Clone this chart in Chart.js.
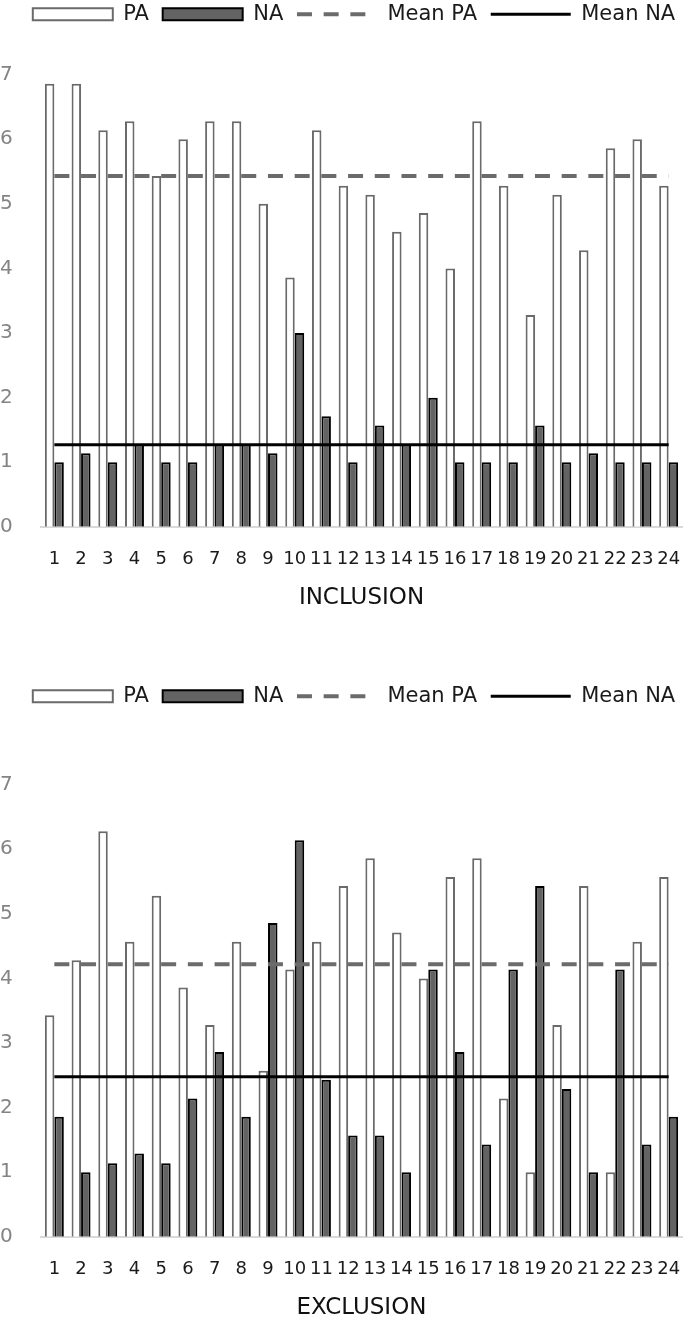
<!DOCTYPE html>
<html>
<head>
<meta charset="utf-8">
<script src="https://cdn.jsdelivr.net/npm/chart.js@4.4.1/dist/chart.umd.min.js"></script>
<style>
  html, body { margin: 0; padding: 0; background: #fff; }
  body { width: 685px; height: 1324px; position: relative; overflow: hidden; }
  .box { position: absolute; left: 0; width: 685px; }
  #topBox { top: -10px; height: 626px; }
  #botBox { top: 672px; height: 654px; }
</style>
</head>
<body>
<div class="box" id="topBox"><canvas id="inclusionChart"></canvas></div>
<div class="box" id="botBox"><canvas id="exclusionChart"></canvas></div>
<script>
// participants 1..24
const participants = ['1','2','3','4','5','6','7','8','9','10','11','12',
  '13','14','15','16','17','18','19','20','21','22','23','24'];

// inclusion condition
const inclusionPA = [6.86, 6.86, 6.14, 6.28, 5.43, 6.00, 6.28, 6.28, 5.00, 3.86, 6.14, 5.28,
  5.14, 4.57, 4.86, 4.00, 6.28, 5.28, 3.28, 5.14, 4.28, 5.86, 6.00, 5.28];
const inclusionNA = [1.00, 1.14, 1.00, 1.28, 1.00, 1.00, 1.28, 1.28, 1.14, 3.00, 1.71, 1.00,
  1.57, 1.28, 2.00, 1.00, 1.00, 1.00, 1.57, 1.00, 1.14, 1.00, 1.00, 1.00];
const inclusionMeanPA = 5.43;
const inclusionMeanNA = 1.27;

// exclusion condition
const exclusionPA = [3.43, 4.28, 6.28, 4.57, 5.28, 3.86, 3.28, 4.57, 2.57, 4.14, 4.57, 5.43,
  5.86, 4.71, 4.00, 5.57, 5.86, 2.14, 1.00, 3.28, 5.43, 1.00, 4.57, 5.57];
const exclusionNA = [1.86, 1.00, 1.14, 1.29, 1.14, 2.14, 2.86, 1.86, 4.86, 6.14, 2.43, 1.57,
  1.57, 1.00, 4.14, 2.86, 1.43, 4.14, 5.43, 2.29, 1.00, 4.14, 1.43, 1.86];
const exclusionMeanPA = 4.22;
const exclusionMeanNA = 2.48;

const yTicks = [0, 1, 2, 3, 4, 5, 6, 7];

Chart.defaults.font.family = "'DejaVu Sans', sans-serif";
Chart.defaults.animation = false;

// legend items: take dash + width from the dataset itself
function legendLabels(chart) {
  const items = Chart.defaults.plugins.legend.labels.generateLabels(chart);
  items.forEach(item => {
    const ds = chart.data.datasets[item.datasetIndex];
    item.lineDash = ds.borderDash || [];
    item.lineWidth = ds.borderWidth;
  });
  return items;
}

function makeChart(canvasId, title, pa, na, meanPA, meanNA, legendGap) {
  const ctx = document.getElementById(canvasId).getContext('2d');

  // push the plot down below the legend, and nudge the legend row right
  const legendGapPlugin = {
    id: 'legendGap',
    beforeInit(chart) {
      const origFit = chart.legend.fit;
      chart.legend.fit = function () {
        origFit.bind(chart.legend)();
        this.height += legendGap;
      };
    },
    afterLayout(chart) {
      chart.legend.left += 13;
      chart.legend.right += 13;
    }
  };

  return new Chart(ctx, {
    type: 'bar',
    data: {
      labels: participants,
      datasets: [{
        label: 'PA',
        data: pa,
        backgroundColor: '#ffffff',
        borderColor: '#6a6a6a',
        borderWidth: 2,
        pointStyle: 'rect',
        order: 2
      }, {
        label: 'NA',
        data: na,
        backgroundColor: '#636363',
        borderColor: '#000000',
        borderWidth: 2,
        pointStyle: 'rect',
        order: 2
      }, {
        type: 'line',
        label: 'Mean PA',
        data: participants.map(() => meanPA),
        borderColor: '#6b6b6b',
        borderWidth: 4,
        borderDash: [15, 11.7],
        pointRadius: 0,
        pointStyle: 'line',
        fill: false,
        order: 1
      }, {
        type: 'line',
        label: 'Mean NA',
        data: participants.map(() => meanNA),
        borderColor: '#000000',
        borderWidth: 3,
        pointRadius: 0,
        pointStyle: 'line',
        fill: false,
        order: 1
      }]
    },
    options: {
      responsive: true,
      maintainAspectRatio: false,
      layout: { padding: { left: 0, right: 3, top: 0, bottom: 0 } },
      datasets: {
        bar: { categoryPercentage: 0.71, barPercentage: 1.0 }
      },
      scales: {
        x: {
          grid: {
            display: true,
            drawOnChartArea: false,
            drawTicks: true,
            tickLength: 20,
            color: 'rgba(0,0,0,0)'
          },
          border: { display: true, color: '#d9d9d9', width: 2 },
          ticks: {
            autoSkip: false,
            maxRotation: 0,
            padding: 2,
            color: '#1a1a1a',
            font: { size: 18 }
          },
          title: {
            display: true,
            text: title,
            color: '#111111',
            font: { size: 23 },
            padding: { top: 12, bottom: 4 }
          }
        },
        y: {
          min: 0,
          max: 7,
          grid: { display: false, drawTicks: false },
          border: { display: false },
          afterBuildTicks(scale) {
            scale.ticks = yTicks.map(v => ({ value: v }));
          },
          afterFit(scale) {
            scale.width = 41;
          },
          ticks: {
            crossAlign: 'far',
            padding: 0,
            color: '#848484',
            font: { size: 20 }
          }
        }
      },
      plugins: {
        tooltip: { enabled: false },
        legend: {
          position: 'top',
          labels: {
            usePointStyle: true,
            pointStyleWidth: 80,
            boxHeight: 12,
            padding: 13.7,
            color: '#1a1a1a',
            font: { size: 21 },
            sort: (a, b) => a.datasetIndex - b.datasetIndex,
            generateLabels: legendLabels
          }
        }
      }
    },
    plugins: [legendGapPlugin]
  });
}

makeChart('inclusionChart', 'INCLUSION', inclusionPA, inclusionNA,
  inclusionMeanPA, inclusionMeanNA, 40);
makeChart('exclusionChart', 'EXCLUSION', exclusionPA, exclusionNA,
  exclusionMeanPA, exclusionMeanNA, 68);
</script>
</body>
</html>
